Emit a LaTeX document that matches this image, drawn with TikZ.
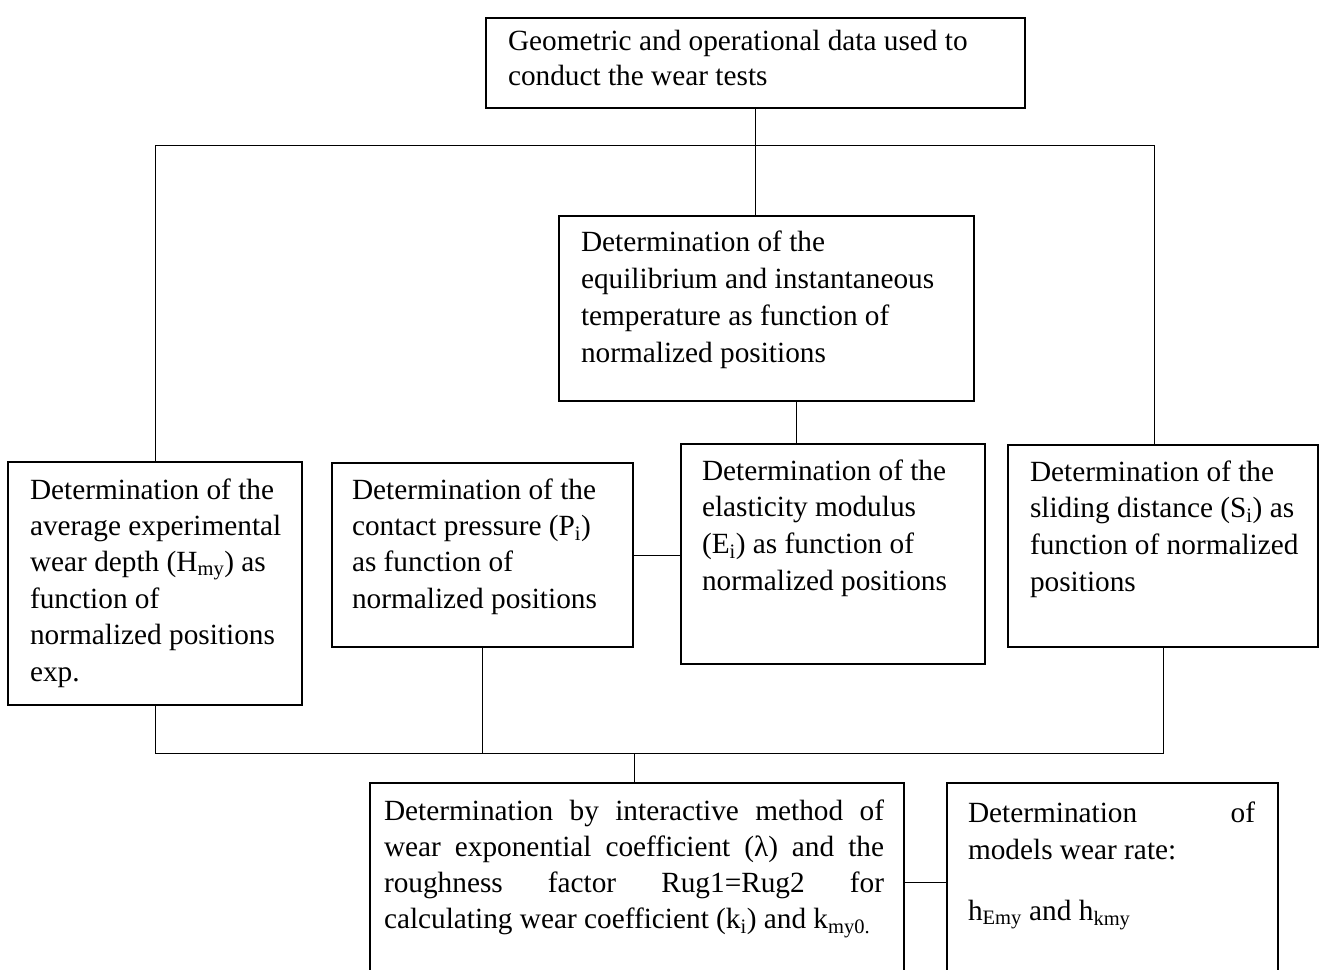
\documentclass[tikz,border=0pt]{standalone}
\usepackage{fontspec}
\setmainfont{Liberation Serif}
\newcommand{\ns}{\spaceskip=0pt\xspaceskip=0pt\relax}
\begin{document}
\begin{tikzpicture}[x=1pt,y=-1pt,
  box/.style={draw, line width=1.7pt, anchor=north west, inner sep=0pt, outer sep=0pt},
  txt/.style={anchor=base west, inner sep=0pt, outer sep=0pt},
  conn/.style={line width=1pt}]
\clip (0,0) rectangle (1319,969);
\fill[white] (0,0) rectangle (1319,969);
\newcommand{\fs}[1]{\fontsize{29.3}{#1}\selectfont}
% boxes
\node[box, minimum width=539pt, minimum height=90pt]  (top)  at (486,18)  {};
\node[box, minimum width=415pt, minimum height=185pt] (temp) at (559,216) {};
\node[box, minimum width=294pt, minimum height=243pt] (n1)   at (8,462)   {};
\node[box, minimum width=301pt, minimum height=184pt] (P)    at (332,463) {};
\node[box, minimum width=304pt, minimum height=220pt] (E)    at (681,444) {};
\node[box, minimum width=310pt, minimum height=202pt] (S)    at (1008,445){};
\node[box, minimum width=534pt, minimum height=198pt] (B)    at (370,783) {};
\node[box, minimum width=331pt, minimum height=198pt] (R)    at (947,783) {};
% texts
\node[txt, text width=520pt, font=\fs{35}] (ttop) at (508,50)
  {\ns Geometric and operational data used to\\conduct the wear tests};
\node[txt, text width=390pt, font=\fs{37}] (ttemp) at (581,251)
  {\ns Determination of the\\equilibrium and instantaneous\\temperature as function of\\normalized positions};
\node[txt, text width=285pt, font=\fs{36.4}] (tn1) at (30,499)
  {\ns Determination of the\\average experimental\\wear depth (H\textsubscript{my}) as\\function of\\normalized positions\\exp.};
\node[txt, text width=285pt, font=\fs{36.4}] (tP) at (352,499)
  {\ns Determination of the\\contact pressure (P\textsubscript{i})\\as function of\\normalized positions};
\node[txt, text width=285pt, font=\fs{36.7}] (tE) at (702,480)
  {\ns Determination of the\\elasticity modulus\\(E\textsubscript{i}) as function of\\normalized positions};
\node[txt, text width=290pt, font=\fs{36.7}] (tS) at (1030,481)
  {\ns Determination of the\\sliding distance (S\textsubscript{i}) as\\function of normalized\\positions};
\node[txt, text width=510pt, font=\fs{36}] (tB) at (384,820)
  {\ns\makebox[500pt][s]{Determination by interactive method of}\\
   \makebox[500pt][s]{wear exponential coefficient (λ) and the}\\
   \makebox[500pt][s]{roughness factor Rug1=Rug2 for}\\
   calculating wear coefficient (k\textsubscript{i}) and k\textsubscript{my0.}};
\node[txt, text width=300pt, font=\fs{37}] (tR) at (968,822)
  {\ns\makebox[287pt][s]{Determination of}\\models wear rate:\\[24pt]h\textsubscript{Emy} and h\textsubscript{kmy}};
% connectors
\coordinate (busT) at (0,145);
\coordinate (busB) at (0,753);
\coordinate (sT) at ([xshift=-9pt]S.north);
\coordinate (tempS) at ([xshift=30pt]temp.south);
\coordinate (bN) at ([xshift=-3pt]B.north);
\draw[conn] (top.south) -- (top.south |- temp.north);
\draw[conn] (n1.north) -- (n1.north |- busT) -- (sT |- busT) -- (sT);
\draw[conn] (tempS) -- (tempS |- E.north);
\draw[conn] (P.east) -- (P.east -| E.west);
\draw[conn] (n1.south) -- (n1.south |- busB) -- (S.south |- busB) -- (S.south);
\draw[conn] (P.south) -- (P.south |- busB);
\draw[conn] (bN |- busB) -- (bN);
\draw[conn] (B.east) -- (R.west);
\end{tikzpicture}
\end{document}
